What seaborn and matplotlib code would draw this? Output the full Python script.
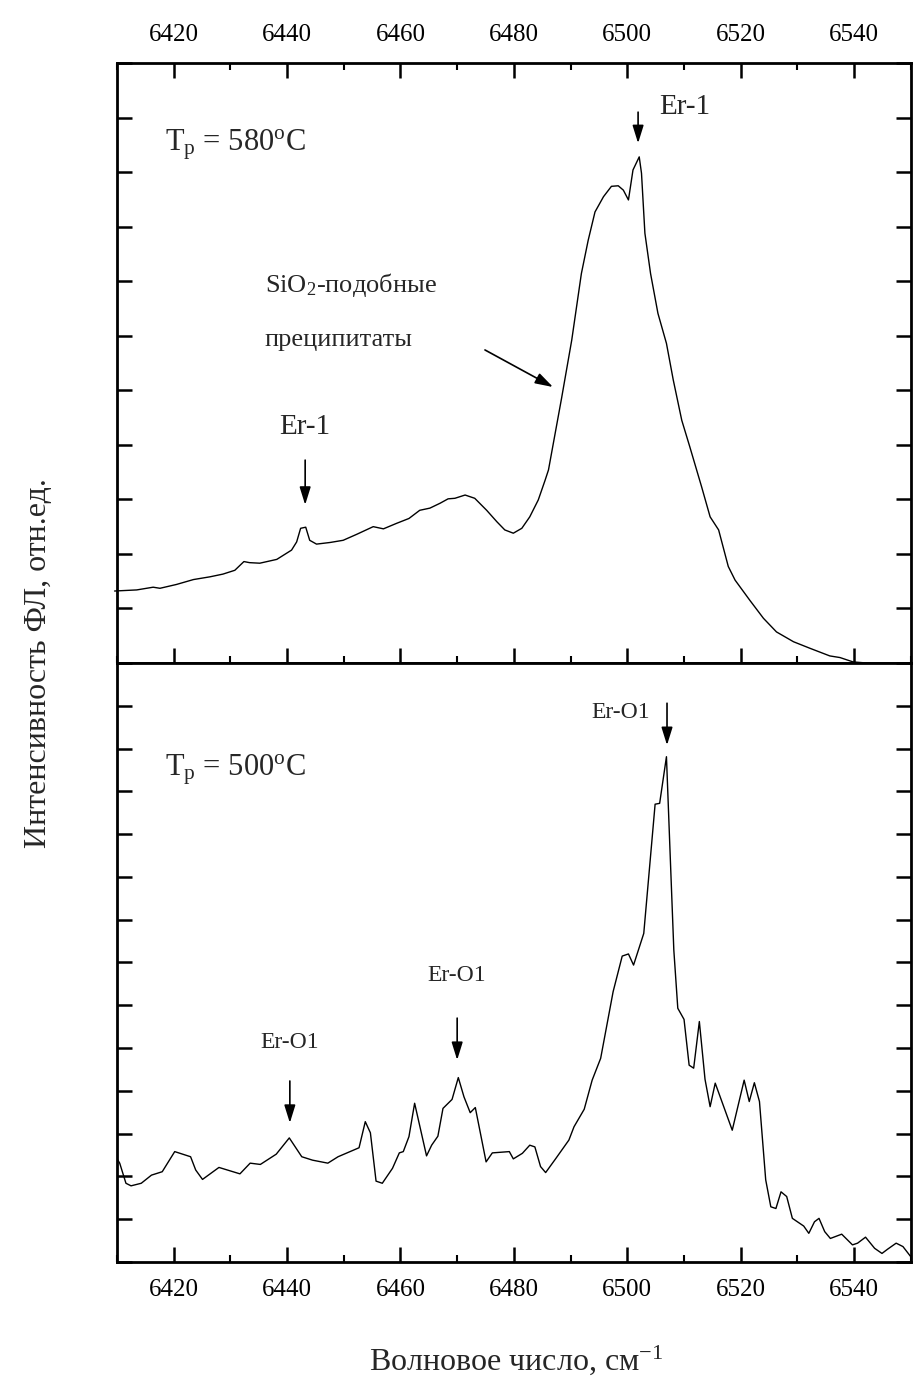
import numpy as np
import pandas as pd
import matplotlib
matplotlib.use("Agg")
import matplotlib.pyplot as plt
import seaborn as sns
from matplotlib.ticker import MultipleLocator

# ---- data: T_p = 580 C (top panel) ----
wn_580 = [6409.6, 6413.5, 6416.4, 6417.6, 6420.5, 6423.5, 6426.4, 6428.7, 6430.8, 6432.4,
          6433.4, 6435.2, 6438.2, 6440.8, 6441.7, 6442.4, 6443.3, 6444.0, 6445.2, 6447.6,
          6449.9, 6452.3, 6455.2, 6457.0, 6459.3, 6461.5, 6463.4, 6465.2, 6467.0, 6468.4,
          6469.6, 6471.4, 6473.1, 6475.2, 6477.0, 6478.4, 6479.9, 6481.4, 6482.8, 6484.3,
          6485.5, 6486.1, 6488.4, 6490.2, 6491.9, 6493.1, 6494.3, 6495.8, 6497.2, 6498.4,
          6499.3, 6500.2, 6501.0, 6502.1, 6502.5, 6503.1, 6504.1, 6505.4, 6506.9, 6508.1,
          6509.6, 6511.0, 6513.1, 6514.6, 6516.1, 6517.8, 6519.0, 6521.6, 6524.0, 6526.3,
          6529.3, 6532.2, 6535.7, 6537.5, 6539.8, 6543.4, 6546.9, 6549.8]
pl_580 = [1.32, 1.34, 1.39, 1.37, 1.44, 1.53, 1.58, 1.63, 1.70, 1.86,
          1.84, 1.83, 1.90, 2.07, 2.22, 2.47, 2.49, 2.25, 2.18, 2.21,
          2.25, 2.36, 2.50, 2.46, 2.56, 2.65, 2.80, 2.84, 2.93, 3.01,
          3.02, 3.08, 3.02, 2.80, 2.59, 2.44, 2.38, 2.47, 2.68, 2.99,
          3.35, 3.54, 4.85, 5.92, 7.14, 7.75, 8.27, 8.55, 8.74, 8.75,
          8.67, 8.49, 9.04, 9.28, 8.98, 7.88, 7.14, 6.41, 5.86, 5.19,
          4.45, 3.97, 3.23, 2.68, 2.44, 1.77, 1.52, 1.15, 0.82, 0.57,
          0.39, 0.27, 0.13, 0.10, 0.02, -0.01, -0.07, -0.08]

# ---- data: T_p = 500 C (bottom panel) ----
wn_500 = [6410.0, 6410.5, 6411.6, 6412.5, 6414.3, 6416.1, 6418.0, 6420.2, 6423.0, 6423.9,
          6425.1, 6428.0, 6431.7, 6433.5, 6435.3, 6438.1, 6440.4, 6442.6, 6444.5, 6447.2,
          6449.0, 6452.7, 6453.8, 6454.7, 6455.7, 6456.8, 6458.6, 6459.8, 6460.5, 6461.5,
          6462.5, 6464.6, 6465.5, 6466.6, 6467.5, 6469.1, 6470.2, 6471.2, 6472.3, 6473.2,
          6475.1, 6476.2, 6479.2, 6479.9, 6481.5, 6482.8, 6483.7, 6484.7, 6485.6, 6487.4,
          6489.7, 6490.6, 6492.4, 6493.8, 6495.3, 6497.5, 6499.1, 6500.2, 6501.1, 6502.9,
          6504.9, 6505.7, 6506.9, 6507.5, 6508.2, 6508.9, 6510.0, 6510.9, 6511.7, 6512.7,
          6513.7, 6514.6, 6515.5, 6518.5, 6520.6, 6521.5, 6522.4, 6523.3, 6524.4, 6525.3,
          6526.2, 6527.1, 6528.1, 6529.1, 6531.1, 6532.0, 6533.0, 6533.8, 6534.8, 6535.8,
          6537.8, 6539.7, 6540.6, 6542.0, 6543.6, 6544.9, 6545.9, 6547.4, 6548.6, 6550.0]
pl_500 = [2.42, 2.31, 1.84, 1.78, 1.84, 2.03, 2.11, 2.58, 2.46, 2.15,
          1.93, 2.21, 2.06, 2.31, 2.28, 2.52, 2.90, 2.46, 2.38, 2.31,
          2.46, 2.67, 3.28, 3.02, 1.89, 1.84, 2.19, 2.55, 2.58, 2.93,
          3.71, 2.48, 2.73, 2.94, 3.59, 3.80, 4.31, 3.86, 3.49, 3.61,
          2.34, 2.55, 2.58, 2.41, 2.54, 2.73, 2.69, 2.23, 2.09, 2.42,
          2.85, 3.16, 3.57, 4.25, 4.76, 6.32, 7.15, 7.20, 6.94, 7.68,
          10.70, 10.72, 11.81, 9.71, 7.29, 5.93, 5.67, 4.60, 4.53, 5.62,
          4.27, 3.63, 4.18, 3.08, 4.25, 3.75, 4.19, 3.75, 1.92, 1.29,
          1.25, 1.64, 1.53, 1.02, 0.84, 0.67, 0.94, 1.02, 0.71, 0.55,
          0.65, 0.40, 0.44, 0.58, 0.32, 0.20, 0.30, 0.44, 0.36, 0.12]

xticks = [6420, 6440, 6460, 6480, 6500, 6520, 6540]

df580 = pd.DataFrame({"wn": wn_580, "pl": pl_580})
df500 = pd.DataFrame({"wn": wn_500, "pl": pl_500})

sns.set_theme(style="ticks")
plt.rcParams["font.family"] = ["Liberation Serif", "DejaVu Serif"]
plt.rcParams["mathtext.fontset"] = "custom"
plt.rcParams["mathtext.rm"] = "Liberation Serif"
plt.rcParams["mathtext.it"] = "Liberation Serif"

fig = plt.figure(figsize=(9.13, 13.92), dpi=100)
ax1 = fig.add_axes([0.128, 0.5237, 0.8697, 0.4310])
ax2 = fig.add_axes([0.128, 0.0934, 0.8697, 0.4303])

sns.lineplot(data=df580, x="wn", y="pl", ax=ax1, color="black", lw=1.0,
             estimator=None, sort=False, clip_on=False)
sns.lineplot(data=df500, x="wn", y="pl", ax=ax2, color="black", lw=1.0,
             estimator=None, sort=False)

for ax, ymax in ((ax1, 11), (ax2, 14)):
    ax.set_xlim(6410, 6550)
    ax.set_ylim(0, ymax)
    ax.xaxis.set_major_locator(MultipleLocator(20))
    ax.xaxis.set_minor_locator(MultipleLocator(10))
    ax.yaxis.set_major_locator(MultipleLocator(1))
    ax.set_xlabel("")
    ax.set_ylabel("")
    for s in ax.spines.values():
        s.set_linewidth(2.0)
        s.set_color("black")
    ax.tick_params(which="major", direction="in", length=11, width=1.8, colors="black",
                   labelsize=18, pad=12)
    ax.tick_params(which="minor", direction="in", length=5, width=1.5, colors="black")
    ax.tick_params(axis="y", which="both", left=True, right=True,
                   labelleft=False, labelright=False)

ax1.tick_params(axis="x", which="both", top=True, bottom=True,
                labeltop=True, labelbottom=False)
ax2.tick_params(axis="x", which="both", top=False, bottom=True,
                labeltop=False, labelbottom=True)
ax1.set_xticks(xticks)
ax2.set_xticks(xticks)

arrow_kw = dict(arrowstyle="-|>,head_length=0.9,head_width=0.28", color="black", lw=1.2,
                shrinkA=0, shrinkB=0)

# top panel annotations
ax1.text(6418.5, 9.5, r"T$_{\mathregular{p}}$ = 580$^{\mathregular{o}}$C", fontsize=22,
         va="center", ha="left")
ax1.text(6505.7, 10.2, "Er-1", fontsize=21, va="center", ha="left")
ax1.annotate("", xy=(6501.9, 9.53), xytext=(6501.9, 10.1), arrowprops=arrow_kw)
ax1.text(6436.1, 6.93, r"SiO$_{\mathregular{2}}$-подобные", fontsize=19, va="center", ha="left")
ax1.text(6436.1, 5.92, "преципитаты", fontsize=19, va="center", ha="left")
ax1.annotate("", xy=(6486.9, 5.06), xytext=(6474.9, 5.74), arrowprops=arrow_kw)
ax1.text(6443.2, 4.33, "Er-1", fontsize=21, va="center", ha="center")
ax1.annotate("", xy=(6443.2, 2.90), xytext=(6443.2, 3.72), arrowprops=arrow_kw)

# bottom panel annotations
ax2.text(6418.5, 11.5, r"T$_{\mathregular{p}}$ = 500$^{\mathregular{o}}$C", fontsize=22,
         va="center", ha="left")
ax2.text(6504.0, 12.85, "Er-O1", fontsize=17, va="center", ha="right")
ax2.annotate("", xy=(6507.0, 12.08), xytext=(6507.0, 13.06), arrowprops=arrow_kw)
ax2.text(6470.0, 6.7, "Er-O1", fontsize=17, va="center", ha="center")
ax2.annotate("", xy=(6470.0, 4.72), xytext=(6470.0, 5.70), arrowprops=arrow_kw)
ax2.text(6440.5, 5.12, "Er-O1", fontsize=17, va="center", ha="center")
ax2.annotate("", xy=(6440.5, 3.25), xytext=(6440.5, 4.23), arrowprops=arrow_kw)

fig.text(0.042, 0.5237, "Интенсивность ФЛ, отн.ед.", rotation=90, fontsize=23,
         va="center", ha="center")
fig.text(0.565, 0.023, r"Волновое число, см$^{\mathregular{-1}}$", fontsize=23,
         va="center", ha="center")

fig.savefig("out.png", dpi=100)
